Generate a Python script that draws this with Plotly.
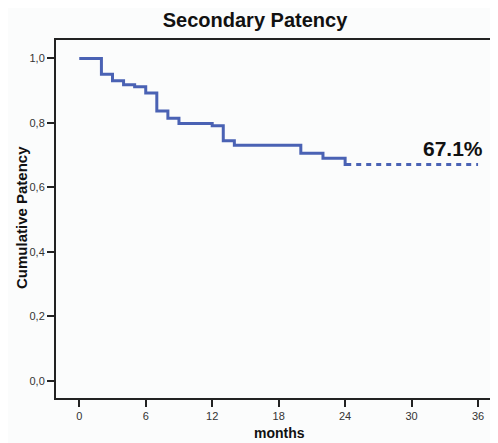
import plotly.graph_objects as go

# Kaplan-Meier step data (months, cumulative patency)
months = [0, 2, 3, 4, 5, 6, 7, 8, 9, 12, 13, 14, 20, 22, 24]
patency = [1.0, 0.951, 0.931, 0.918, 0.912, 0.893, 0.837, 0.814, 0.798, 0.791, 0.745, 0.731, 0.706, 0.690, 0.671]
solid_end = 24.55
dotted_x = [25.0, 36]
final_value = 0.671
label_text = "67.1%"
x_ticks = [0, 6, 12, 18, 24, 30, 36]
y_ticks = [0.0, 0.2, 0.4, 0.6, 0.8, 1.0]

blue = "#4a62b4"
font_fam = "Liberation Sans, Arial, sans-serif"

# page body has an 8px margin; figure is sized so the plot area lands where the reference has it
OFF = 8
W, H = 498 - OFF, 443 - OFF

fig = go.Figure()
fig.add_trace(go.Scatter(
    x=months + [solid_end], y=patency + [final_value],
    mode="lines", line=dict(color=blue, width=3, shape="hv"),
    showlegend=False, hoverinfo="skip"))
fig.add_trace(go.Scatter(
    x=dotted_x, y=[final_value, final_value],
    mode="lines", line=dict(color=blue, width=3, dash="5px,5px"),
    showlegend=False, hoverinfo="skip"))

fig.update_layout(
    width=W, height=H,
    margin=dict(l=56 - OFF, r=0, t=40 - OFF, b=45),
    paper_bgcolor="#fbfcfc", plot_bgcolor="#fbfcfc",
    separators=",.",
    font=dict(family=font_fam, color="#222"),
    title=dict(text="<b>Secondary Patency</b>", x=(255 - OFF) / W, xanchor="center",
               y=1 - (20 - OFF) / H, yanchor="middle", yref="container",
               font=dict(size=20, color="#111", family=font_fam)),
    xaxis=dict(range=[-2.1, 37.8], tickvals=x_ticks, showgrid=False, zeroline=False,
               showline=True, linecolor="#222", linewidth=2, mirror=True,
               ticks="outside", ticklen=7, tickwidth=1.5, tickcolor="#222",
               tickfont=dict(size=11, color="#333")),
    yaxis=dict(range=[-0.053, 1.057], tickvals=y_ticks, tickformat=".1f",
               showgrid=False, zeroline=False,
               showline=True, linecolor="#222", linewidth=2, mirror=False,
               ticks="outside", ticklen=7, tickwidth=1.5, tickcolor="#222",
               tickfont=dict(size=11, color="#333")),
)

fig.add_annotation(text="<b>Cumulative Patency</b>", textangle=-90,
                   xref="paper", yref="paper", x=(21 - 56) / 442, y=(398 - 218) / 358,
                   xanchor="center", yanchor="middle", showarrow=False,
                   font=dict(size=15, color="#111"))
fig.add_annotation(text="<b>months</b>",
                   xref="paper", yref="paper", x=(279 - 56) / 442, y=(398 - 433) / 358,
                   xanchor="center", yanchor="middle", showarrow=False,
                   font=dict(size=14, color="#111"))
fig.add_annotation(text="<b>" + label_text + "</b>", x=33.7, y=0.722,
                   xanchor="center", yanchor="middle", showarrow=False,
                   font=dict(size=21, color="#111"))

fig.write_html("out.html")
